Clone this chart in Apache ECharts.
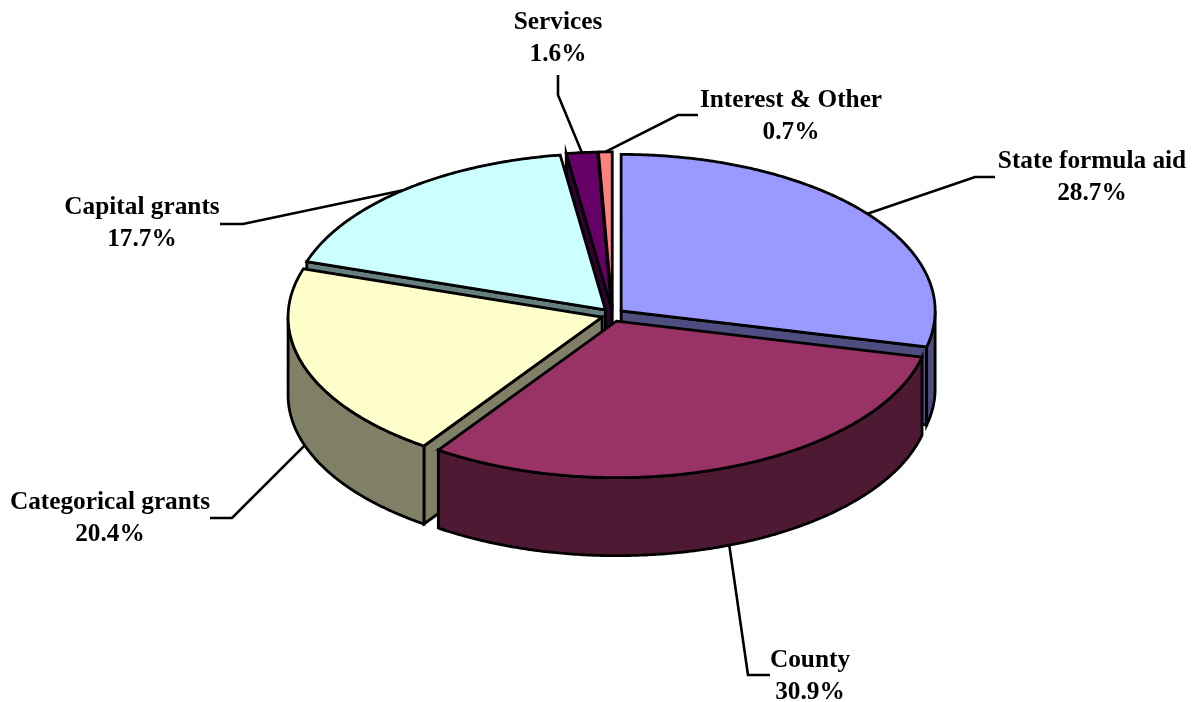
<!DOCTYPE html>
<html>
<head>
<meta charset="utf-8">
<script src="https://cdn.jsdelivr.net/npm/echarts@6/dist/echarts.min.js"></script>
<style>html,body{margin:0;padding:0;background:#fff}#c{width:1202px;height:702px}</style>
</head>
<body>
<div id="c"></div>
<script>
// Data, in the drawing order (back to front)
const categories = ['Interest & Other', 'Services', 'Capital grants', 'State formula aid', 'Categorical grants', 'County'];
const shares = [0.7, 1.6, 17.7, 28.7, 20.4, 30.9];
// Order of the slices around the pie, clockwise from 12 o'clock
const pieOrder = ['State formula aid', 'County', 'Categorical grants', 'Capital grants', 'Services', 'Interest & Other'];

// Styling and layout
const topColors = ['#FF8080', '#660066', '#CCFFFF', '#9999FF', '#FFFFCC', '#993366'];
const sideColors = ['#804040', '#330033', '#668080', '#4D4D80', '#808066', '#4D1933'];
const leaderKnee = [[678, 115], [558, 95], [243, 224], [975, 177], [232, 518], [748, 675]];
const leaderEnd = [[698, 115], [558, 75], [220, 224], [995, 177], [210, 518], [770, 675]];
const labelPos = [[791, 116], [558, 38], [142, 223], [1092, 177], [110, 518], [810, 676]];
const geo = {cx: 612.5, cy: 315, rx: 314, ry: 156.5, depth: 78, explode: 11, explodeTilt: 0.6};
const FONT = 'bold 25.3px "Liberation Serif", "Times New Roman", serif';

const total = shares.reduce((a, b) => a + b, 0);
const angles = {};
let acc = 0;
pieOrder.forEach(name => {
  const v = shares[categories.indexOf(name)];
  const s = acc / total * 360;
  acc += v;
  angles[name] = [s, acc / total * 360];
});
const rad = d => d * Math.PI / 180;

function renderItem(params, api) {
  const i = params.dataIndex;
  const pct = api.value(0);
  const [a0, a1] = angles[categories[i]];
  const mid = (a0 + a1) / 2;
  const ax = geo.cx + geo.explode * Math.sin(rad(mid));
  const ay = geo.cy - geo.explode * Math.cos(rad(mid)) * geo.explodeTilt;
  const rim = a => [ax + geo.rx * Math.sin(rad(a)), ay - geo.ry * Math.cos(rad(a))];
  const down = p => [p[0], p[1] + geo.depth];
  const arc = (s, e) => {
    const pts = [];
    const n = Math.max(2, Math.ceil((e - s) * 2));
    for (let k = 0; k <= n; k++) pts.push(rim(s + (e - s) * k / n));
    return pts;
  };
  const face = (pts, fill) => ({
    type: 'polygon', shape: {points: pts}, silent: true,
    style: {fill: fill, stroke: '#000', lineWidth: 2.8, lineJoin: 'miter'}
  });
  const children = [];
  const side = sideColors[i];
  const apex = [ax, ay];
  if (Math.sin(rad(a0)) < -1e-6) children.push(face([apex, rim(a0), down(rim(a0)), down(apex)], side));
  if (Math.sin(rad(a1)) > 1e-6) children.push(face([apex, rim(a1), down(rim(a1)), down(apex)], side));
  const ws = Math.max(a0, 90), we = Math.min(a1, 270);
  if (we > ws) {
    const top = arc(ws, we);
    children.push(face(top.concat(top.map(down).reverse()), side));
  }
  children.push(face([apex].concat(arc(a0, a1)), topColors[i]));

  // Leader line from the middle of the slice's outer edge to its label
  const front = mid > 90 && mid < 270;
  const start = front ? down(rim(mid)) : rim(mid);
  children.push({
    type: 'polyline', silent: true, shape: {points: [start, leaderKnee[i], leaderEnd[i]]},
    style: {fill: null, stroke: '#000', lineWidth: 2.6, lineJoin: 'miter'}
  });
  children.push({
    type: 'text', silent: true,
    style: {
      x: labelPos[i][0], y: labelPos[i][1], text: categories[i] + '\n' + pct.toFixed(1) + '%',
      font: FONT, fill: '#000', align: 'center', verticalAlign: 'middle', lineHeight: 32
    }
  });
  return {type: 'group', children};
}

const chart = echarts.init(document.getElementById('c'), null, {renderer: 'canvas'});
chart.setOption({
  animation: false,
  backgroundColor: '#fff',
  series: [{
    type: 'custom',
    coordinateSystem: 'none',
    renderItem: renderItem,
    data: shares.map((v, i) => ({name: categories[i], value: [v]}))
  }]
});
</script>
</body>
</html>
